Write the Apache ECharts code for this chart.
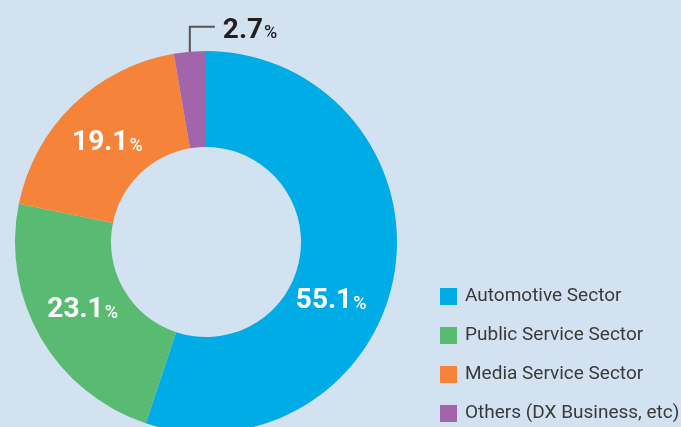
<!DOCTYPE html>
<html><head><meta charset="utf-8">
<script src="https://cdn.jsdelivr.net/npm/echarts@6/dist/echarts.min.js"></script>
<style>html,body{margin:0;padding:0;background:#d3e2f1}#c{width:681px;height:427px}</style>
</head><body><div id="c"></div>
<script>
const categories = ['Automotive Sector', 'Public Service Sector', 'Media Service Sector', 'Others (DX Business, etc)'];
const shares = [55.1, 23.1, 19.1, 2.7];
const colors = ['#00ace6', '#59bb72', '#f5843a', '#a264ab'];
const labelShift = [[-19, 35], [3, -6], [3, 5], [0, 0]];

const chart = echarts.init(document.getElementById('c'), null, { renderer: 'canvas' });

const pieData = categories.map((name, i) => {
  const item = { name: name, value: shares[i], itemStyle: { color: colors[i] } };
  if (i === 3) {
    item.label = { position: 'outside', color: '#231f20', rich: { n: { color: '#231f20' }, p: { color: '#231f20' } } };
    item.labelLine = { show: true, length: 25, length2: 25, lineStyle: { color: '#555555', width: 2 } };
  }
  return item;
});

chart.setOption({
  animation: false,
  backgroundColor: '#d3e2f1',
  legend: {
    orient: 'vertical',
    left: 440,
    top: 287,
    width: 260,
    height: 300,
    padding: 0,
    itemWidth: 17,
    itemHeight: 17,
    itemGap: 20,
    icon: 'rect',
    selectedMode: false,
    data: categories,
    textStyle: { fontFamily: 'Roboto', fontSize: 19, color: '#3a3a3a', lineHeight: 17, padding: [0, 0, 0, 3] }
  },
  series: [{
    type: 'pie',
    center: [206, 242],
    radius: [95, 191],
    startAngle: 90,
    clockwise: true,
    avoidLabelOverlap: false,
    emphasis: { disabled: true },
    itemStyle: { borderWidth: 0 },
    label: {
      show: true,
      position: 'inside',
      formatter: p => '{n|' + p.value.toFixed(1) + '}{p|%}',
      rich: {
        n: { fontFamily: 'Roboto', fontWeight: 'bold', fontSize: 28, color: '#ffffff', verticalAlign: 'bottom', lineHeight: 30 },
        p: { fontFamily: 'Roboto', fontWeight: 500, fontSize: 18, color: '#ffffff', verticalAlign: 'bottom', lineHeight: 30, padding: [0, 0, 2, 1] }
      }
    },
    labelLine: { show: false },
    labelLayout: function (params) {
      const i = params.dataIndex;
      if (i === 3) {
        let p0;
        if (params.labelLinePoints && params.labelLinePoints.length) {
          p0 = params.labelLinePoints[0];
        } else {
          p0 = [params.rect.x + params.rect.width / 2, params.rect.y];
        }
        const topY = p0[1] - 25;
        return {
          x: p0[0] + 33,
          y: topY + 3,
          align: 'left',
          verticalAlign: 'middle',
          labelLinePoints: [[p0[0], p0[1] + 15], [p0[0], topY], [p0[0] + 25, topY]]
        };
      }
      return { dx: labelShift[i][0], dy: labelShift[i][1] };
    },
    data: pieData
  }]
});
</script></body></html>
